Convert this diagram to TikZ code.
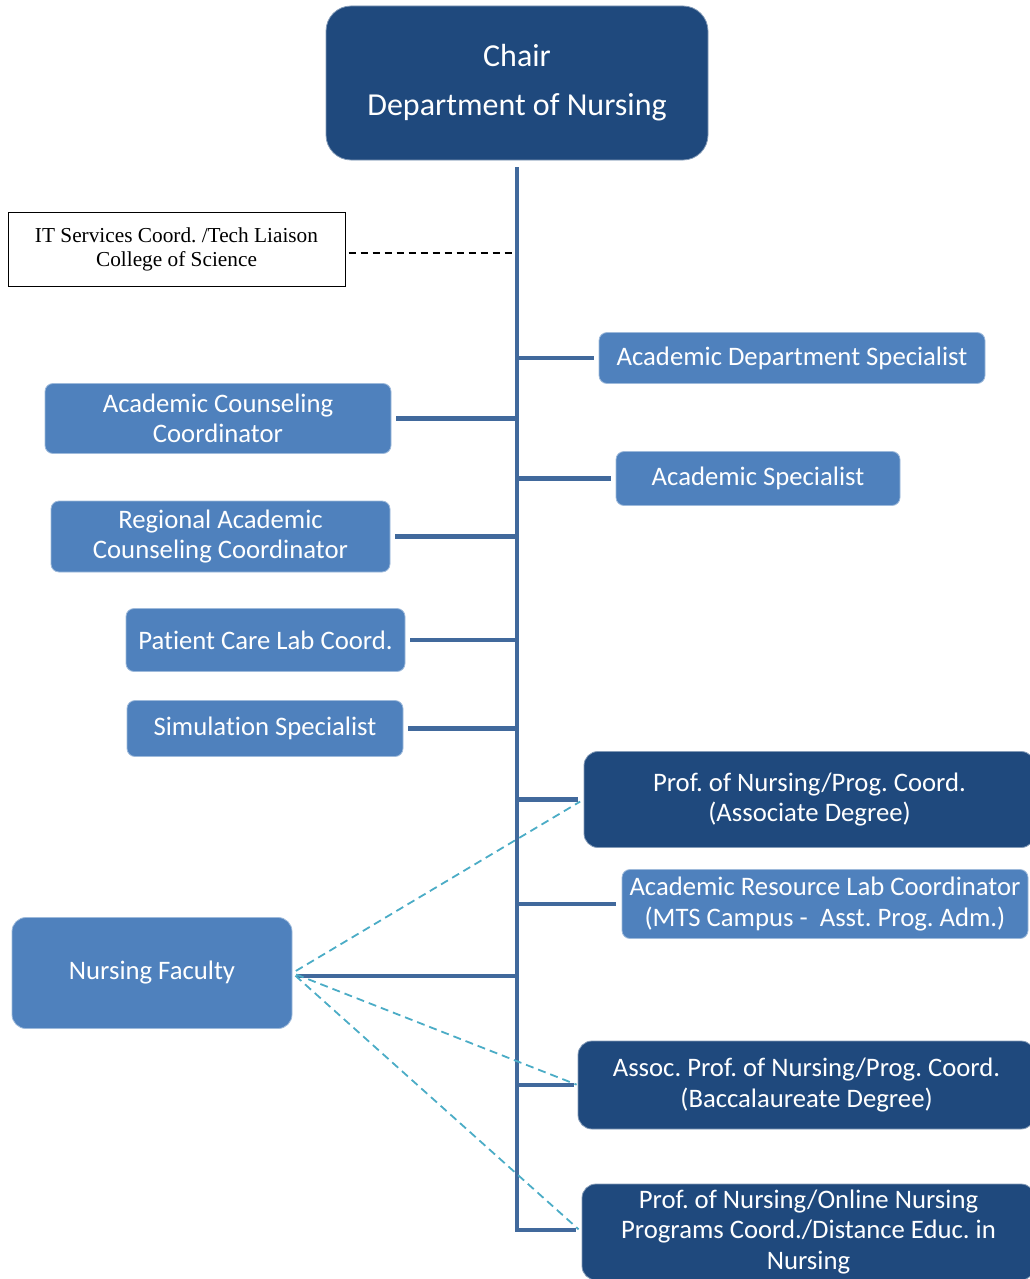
\documentclass[tikz,border=0pt]{standalone}
\usepackage{fontspec}
\setmainfont[Ligatures={NoCommon,NoRare}]{Carlito}
\newfontfamily\timesfont{Liberation Serif}
\frenchspacing
\definecolor{navy}{HTML}{1F497D}
\definecolor{lightblue}{HTML}{4F81BD}
\definecolor{trunkblue}{HTML}{41699C}
\definecolor{cyanline}{HTML}{4BACC6}
\begin{document}
\begin{tikzpicture}[x=1pt, y=-1pt,
  lightbox/.style={rectangle, rounded corners=8pt, fill=lightblue, draw=lightblue!55!white, line width=0.8pt, text=white, align=center, inner sep=0pt, font=\fontsize{26.7}{30.5}\selectfont},
  darkbox/.style={lightbox, fill=navy, draw=navy!55!white, rounded corners=14pt},
  itbox/.style={rectangle, draw=black, fill=white, line width=1pt, align=center, inner sep=0pt, font=\timesfont\fontsize{21.3}{24}\selectfont},
  branch/.style={draw=trunkblue, line width=4.5pt},
  link/.style={draw=cyanline, line width=1.8pt, dash pattern=on 8pt off 5pt}]
  \useasboundingbox (0,0) rectangle (1029,1279);
  \node [darkbox, rounded corners=25pt, minimum width=382, minimum height=154, font=\fontsize{32}{36}\selectfont] (chair) at (517,83) {Chair\\[13pt]Department of Nursing};
  \node [itbox, minimum width=337, minimum height=74] (it) at (176.5,249) {IT Services Coord. /Tech Liaison\\College of Science};
  \node [lightbox, minimum width=386, minimum height=51] (ads) at (792,358) {Academic Department Specialist};
  \node [lightbox, minimum width=346, minimum height=70] (acc) at (218,418.5) {Academic Counseling\\Coordinator};
  \node [lightbox, minimum width=284, minimum height=54] (aspec) at (758,478.5) {Academic Specialist};
  \node [lightbox, minimum width=339, minimum height=71] (racc) at (220.5,536.5) {Regional Academic\\Counseling Coordinator};
  \node [lightbox, minimum width=279, minimum height=63] (pcl) at (265.5,640) {Patient Care Lab Coord.};
  \node [lightbox, minimum width=276, minimum height=56] (sim) at (265,728.5) {Simulation Specialist};
  \node [darkbox, minimum width=451, minimum height=96] (pnad) at (809.5,799.5) {Prof. of Nursing/Prog. Coord.\\(Associate Degree)};
  \node [lightbox, minimum width=406, minimum height=69] (arl) at (825,904) {Academic Resource Lab Coordinator\\(MTS Campus -\ \ Asst. Prog. Adm.)};
  \node [lightbox, rounded corners=14pt, minimum width=280, minimum height=111] (nf) at (152,973) {Nursing Faculty};
  \node [darkbox, minimum width=457, minimum height=88] (apbd) at (806.5,1085) {Assoc. Prof. of Nursing/Prog. Coord.\\(Baccalaureate Degree)};
  \node [darkbox, minimum width=453, minimum height=96] (pon) at (808.5,1232) {Prof. of Nursing/Online Nursing\\Programs Coord./Distance Educ. in\\Nursing};
  \draw [branch, shorten <=7pt, shorten >=6pt] (chair.south) |- ([yshift=2pt]pon.west);
  \draw [line width=1.2pt, dash pattern=on 7pt off 5pt, shorten <=3pt, shorten >=5pt] ([yshift=-4pt]it.east) -- ([yshift=-4pt]it.east -| chair.south);
  \draw [branch, shorten <=5pt] (ads.west) -- (ads.west -| chair.south);
  \draw [branch, shorten <=5pt] (acc.east) -- (acc.east -| chair.south);
  \draw [branch, shorten <=5pt] (aspec.west) -- (aspec.west -| chair.south);
  \draw [branch, shorten <=5pt] (racc.east) -- (racc.east -| chair.south);
  \draw [branch, shorten <=5pt] (pcl.east) -- (pcl.east -| chair.south);
  \draw [branch, shorten <=5pt] (sim.east) -- (sim.east -| chair.south);
  \draw [branch, shorten <=6pt] (pnad.west) -- (pnad.west -| chair.south);
  \draw [branch, shorten <=6pt] (arl.west) -- (arl.west -| chair.south);
  \draw [branch, shorten <=5pt] ([yshift=-3pt]nf.east) -- ([yshift=-3pt]nf.east -| chair.south);
  \draw [branch, shorten <=4pt] (apbd.west) -- (apbd.west -| chair.south);
  \draw [link, shorten <=4pt, shorten >=4pt] (nf.east) -- (pnad.west);
  \draw [link, shorten <=4pt, shorten >=1pt] (nf.east) -- (apbd.west);
  \draw [link, shorten <=4pt, shorten >=4pt] (nf.east) -- (pon.west);
\end{tikzpicture}
\end{document}
